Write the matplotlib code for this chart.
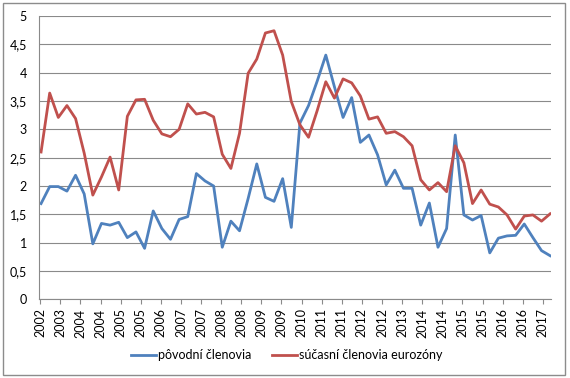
import numpy as np
import matplotlib.pyplot as plt
from matplotlib.patches import Rectangle

# quarterly values
povodni = [1.69, 1.99, 1.99, 1.91, 2.19, 1.86, 0.98, 1.34, 1.31, 1.36,
           1.09, 1.19, 0.90, 1.56, 1.25, 1.06, 1.41, 1.46, 2.22, 2.09,
           2.00, 0.92, 1.38, 1.21, 1.78, 2.39, 1.80, 1.73, 2.13, 1.27,
           3.11, 3.42, 3.85, 4.31, 3.75, 3.21, 3.56, 2.77, 2.90, 2.55,
           2.02, 2.28, 1.96, 1.96, 1.31, 1.70, 0.92, 1.25, 2.90, 1.49,
           1.40, 1.48, 0.82, 1.08, 1.12, 1.13, 1.33, 1.09, 0.86, 0.77]
sucasni = [2.60, 3.64, 3.21, 3.42, 3.19, 2.58, 1.84, 2.16, 2.51, 1.93,
           3.23, 3.52, 3.53, 3.16, 2.92, 2.87, 3.00, 3.45, 3.27, 3.30,
           3.22, 2.56, 2.31, 2.93, 3.99, 4.24, 4.70, 4.74, 4.31, 3.49,
           3.08, 2.86, 3.33, 3.84, 3.55, 3.89, 3.82, 3.59, 3.18, 3.22,
           2.93, 2.96, 2.87, 2.71, 2.11, 1.93, 2.06, 1.90, 2.71, 2.41,
           1.69, 1.93, 1.68, 1.63, 1.49, 1.24, 1.47, 1.49, 1.38, 1.51]
tick_labels = ['2002', '2003', '2004', '2004', '2005', '2005', '2006', '2007',
               '2007', '2008', '2008', '2009', '2009', '2010', '2011', '2011',
               '2012', '2012', '2013', '2014', '2014', '2015', '2015', '2016',
               '2016', '2017']
y_ticks = [0, 0.5, 1, 1.5, 2, 2.5, 3, 3.5, 4, 4.5, 5]

plt.rcParams['font.family'] = ['Lato', 'DejaVu Sans']

fig = plt.figure(figsize=(5.7, 3.78), dpi=100)
ax = fig.add_axes([0.069, 0.208, 0.8977, 0.7497])

x = np.arange(len(povodni))
ax.plot(x, povodni, color='#4F81BD', lw=2.0, label='pôvodní členovia')
ax.plot(x, sucasni, color='#C0504D', lw=2.0, label='súčasní členovia eurozóny')

ax.set_xlim(-0.2, 59.1)
ax.set_ylim(0, 5)
ax.set_yticks(y_ticks)
ax.set_yticklabels([f'{v:g}'.replace('.', ',') for v in y_ticks])
ax.set_xticks(np.linspace(-0.1, 58.15, len(tick_labels)))
ax.set_xticklabels(tick_labels, rotation=90)

ax.grid(axis='y', color='#8a8a8a', lw=0.8)
ax.set_axisbelow(True)
for s in ['top', 'right']:
    ax.spines[s].set_visible(False)
ax.spines['left'].set_color('#8a8a8a')
ax.spines['bottom'].set_color('#8a8a8a')
ax.tick_params(axis='y', length=0, pad=9, labelsize=9)
ax.tick_params(axis='x', length=3.5, color='#8a8a8a', pad=3, labelsize=9)

fig.legend(loc='center', bbox_to_anchor=(0.503, 0.06), ncol=2, frameon=False,
           fontsize=9, handlelength=2.0, handletextpad=0.2, columnspacing=1.6)

fig.patches.append(Rectangle((3 / 570, 3 / 378), 562 / 570, 372 / 378,
                             transform=fig.transFigure, fill=False,
                             edgecolor='#8c8c8c', lw=1))

fig.savefig('out.png', dpi=100)
